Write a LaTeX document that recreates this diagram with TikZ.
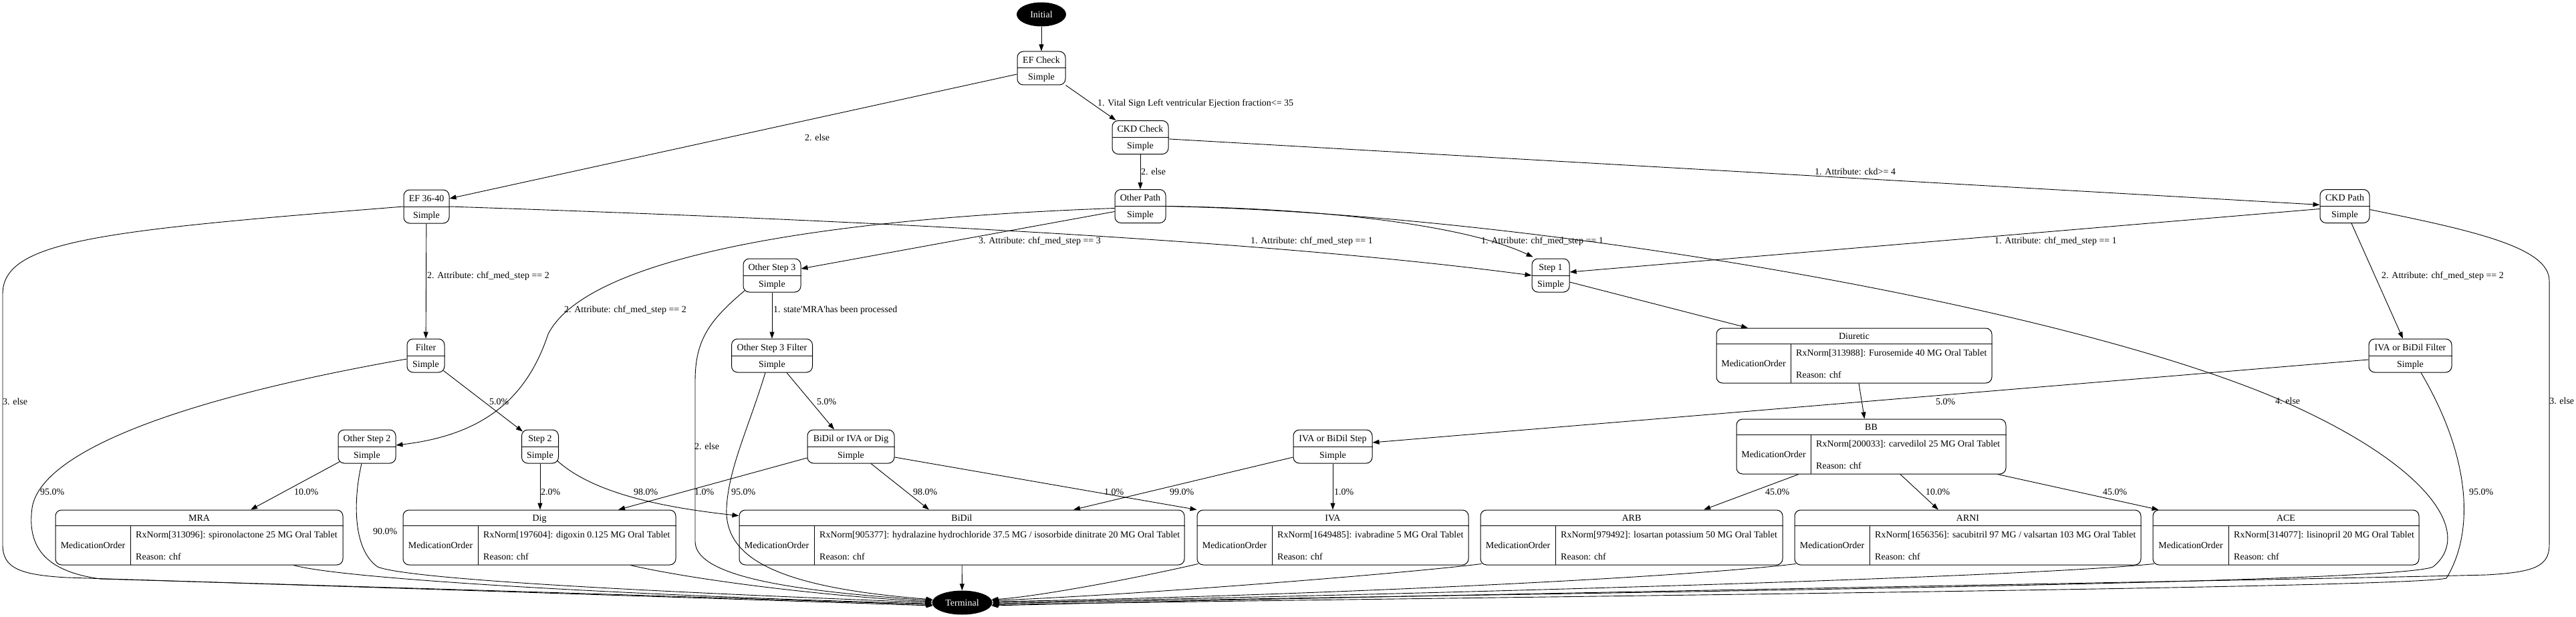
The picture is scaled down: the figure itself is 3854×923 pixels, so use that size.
\documentclass[tikz,border=0pt]{standalone}
\usepackage{fontspec}
\setmainfont{Liberation Serif}
\usetikzlibrary{shapes.geometric,arrows.meta}
\tikzset{
  txt/.style={inner sep=0pt, font=\fontsize{14pt}{17pt}\selectfont, text height=9.3pt, text depth=0pt},
  lbl/.style={txt, anchor=west},
  sbox/.style={draw, line width=1pt, rounded corners=9pt, minimum height=50pt, inner sep=0pt},
  mbox/.style={draw, line width=1pt, rounded corners=9pt, minimum height=82pt, inner sep=0pt},
  divline/.style={line width=1pt},
  term/.style={ellipse, fill=black, text=white, inner sep=0pt, minimum height=36pt, font=\fontsize{14pt}{17pt}\selectfont},
  arr/.style={line width=0.9pt, -{Triangle[length=10pt,width=7pt]}},
}
\newcommand\snode[5]{%
  \node[sbox, minimum width=#4pt] (#1) at (#2,#3) {};
  \draw[divline] (#1.west) -- (#1.east);
  \node[txt] (#1-t) at ([yshift=12.5pt]#1.center) {#5};
  \node[txt] (#1-s) at ([yshift=-12.5pt]#1.center) {Simple};
}
\newcommand\mnode[7]{%
  \node[mbox, minimum width={(#3-#2)*1pt}] (#1) at ({(#2+#3)/2},{#4+41}) {};
  \draw[divline] ([yshift=-24pt]#1.north west) -- ([yshift=-24pt]#1.north east);
  \draw[divline] (#5,{#4+24}) -- (#5,{#4+82});
  \node[txt] (#1-t) at ([yshift=-12pt]#1.north) {#6};
  \node[txt] (#1-m) at ({(#2+#5)/2},{#4+53}) {MedicationOrder};
  \node[txt, anchor=west] (#1-r) at ({#5+8},{#4+37}) {#7};
  \node[txt, anchor=west] (#1-c) at ({#5+8},{#4+70}) {Reason: chf};
}
\begin{document}
\begin{tikzpicture}[x=1pt,y=-1pt]
\useasboundingbox (0,0) rectangle (3854,923);
\fill[white] (0,0) rectangle (3854,923);

% ---------- nodes ----------
\node[term, minimum width=74pt] (init) at (1558,21.5) {Initial};
\snode{efcheck}{1558}{102}{72}{EF Check}
\snode{ckdcheck}{1706}{205.5}{84}{CKD Check}
\snode{otherpath}{1706}{308.5}{76}{Other Path}
\snode{ef36}{638}{309}{68}{EF 36-40}
\snode{ckdpath}{3508}{308.5}{74}{CKD Path}
\snode{step1}{2320}{412}{56}{Step 1}
\snode{ostep3}{1155}{412}{86}{Other Step 3}
\snode{filter}{637}{532}{56}{Filter}
\snode{osfilter}{1155}{532}{121}{Other Step 3 Filter}
\snode{ivafilter}{3606}{532}{124}{IVA or BiDil Filter}
\snode{ostep2}{549}{668}{86}{Other Step 2}
\snode{step2}{808}{668}{55}{Step 2}
\snode{bidig}{1273}{668}{130}{BiDil or IVA or Dig}
\snode{ivastep}{1994}{668}{118}{IVA or BiDil Step}

\mnode{diuretic}{2568}{2980}{491}{2679}{Diuretic}{RxNorm[313988]: Furosemide 40 MG Oral Tablet}
\mnode{bb}{2598}{3001}{627}{2709}{BB}{RxNorm[200033]: carvedilol 25 MG Oral Tablet}
\mnode{mra}{83}{513}{763}{195}{MRA}{RxNorm[313096]: spironolactone 25 MG Oral Tablet}
\mnode{dig}{603}{1011}{763}{715}{Dig}{RxNorm[197604]: digoxin 0.125 MG Oral Tablet}
\mnode{bidil}{1106}{1772}{763}{1218}{BiDil}{RxNorm[905377]: hydralazine hydrochloride 37.5 MG / isosorbide dinitrate 20 MG Oral Tablet}
\mnode{iva}{1791}{2197}{763}{1903}{IVA}{RxNorm[1649485]: ivabradine 5 MG Oral Tablet}
\mnode{arb}{2215}{2667}{763}{2327}{ARB}{RxNorm[979492]: losartan potassium 50 MG Oral Tablet}
\mnode{arni}{2685}{3203}{763}{2797}{ARNI}{RxNorm[1656356]: sacubitril 97 MG / valsartan 103 MG Oral Tablet}
\mnode{ace}{3221}{3619}{763}{3334}{ACE}{RxNorm[314077]: lisinopril 20 MG Oral Tablet}

\node[term, minimum width=90pt] (terminal) at (1439.5,901.5) {Terminal};

% ---------- connectors ----------
\draw[arr] (init) -- (efcheck);
\draw[arr] (efcheck) -- (ckdcheck);
\draw[arr] ([yshift=-9pt]efcheck.west) -- ([yshift=12pt]ef36.east);
\draw[arr] (ckdcheck) -- (otherpath);
\draw[arr] (ckdcheck) -- (ckdpath);
\draw[arr] (ef36.east) .. controls (1300,330) and (1900,360) .. (step1.west);
\draw[arr] (ef36) -- (filter);
\draw[arr] (ef36.west) .. controls (150,345) and (4,360) .. (4,440) -- (4,815) .. controls (4,850) and (30,860) .. (100,864) .. controls (600,880) and (1000,893) .. (terminal.186);

\draw[arr] ([yshift=-8pt]otherpath.west) -- ([yshift=10pt]ostep3.east);
\draw[arr] (otherpath.east) .. controls (2000,312) and (2200,340) .. ([xshift=2pt,yshift=2pt]step1.north west);
\draw[arr] ([yshift=-3pt]otherpath.west) .. controls (1150,330) and (870,400) .. (820,500) .. controls (790,590) and (730,650) .. ([yshift=2pt]ostep2.east);
\draw[arr] (otherpath.east) .. controls (2300,320) and (3100,460) .. (3420,602) .. controls (3640,700) and (3700,800) .. (3640,848) .. controls (3580,875) and (2200,888) .. (terminal.-2);

\draw[arr] ([yshift=-4pt]ckdpath.west) -- ([yshift=5pt]step1.east);
\draw[arr] ([xshift=10pt]ckdpath.south) -- ([xshift=-11pt]ivafilter.north);
\draw[arr] ([yshift=-5pt]ckdpath.east) .. controls (3700,345) and (3814,370) .. (3814,420) -- (3814,815) .. controls (3814,848) and (3790,856) .. (3720,860) .. controls (3400,868) and (2100,890) .. (terminal.-6);

\draw[arr] (ostep3) -- (osfilter);
\draw[arr] ([xshift=3pt,yshift=3pt]ostep3.south west) .. controls (1060,480) and (1040,510) .. (1040,570) -- (1040,810) .. controls (1040,865) and (1200,885) .. (terminal.176);
\draw[arr] ([xshift=22pt]osfilter.south) -- ([xshift=-25pt]bidig.north);
\draw[arr] ([xshift=-10pt]osfilter.south) .. controls (1120,640) and (1090,700) .. (1087,760) .. controls (1084,830) and (1150,878) .. (terminal.174);

\draw[arr] ([xshift=-2pt,yshift=3pt]filter.south east) -- ([xshift=2pt,yshift=-3pt]step2.north west);
\draw[arr] ([yshift=-5pt]filter.west) .. controls (250,600) and (60,680) .. (48,760) .. controls (40,820) and (70,855) .. (150,866) .. controls (700,882) and (1100,895) .. (terminal.184);

\draw[arr] ([xshift=3pt,yshift=3pt]ostep2.south west) -- ([xshift=77pt]mra.north);
\draw[arr] ([xshift=-8pt]ostep2.south) .. controls (530,740) and (525,820) .. (565,848) .. controls (620,870) and (1100,890) .. (terminal.180);

\draw[arr] (step2.south) -- (step2.south |- dig.north);
\draw[arr] ([xshift=-2pt,yshift=4pt]step2.south east) .. controls (890,740) and (1000,760) .. ([yshift=-9pt]bidil.north west);

\draw[arr] ([yshift=-17pt]bidig.west) -- ([xshift=118pt]dig.north);
\draw[arr] ([xshift=30pt]bidig.south) -- ([xshift=-49pt]bidil.north);
\draw[arr] ([yshift=-16pt]bidig.east) -- (iva.north west);
\draw[arr] ([yshift=-16pt]ivastep.west) -- ([xshift=167pt]bidil.north);
\draw[arr] (ivastep) -- (iva);
\draw[arr] ([yshift=-6pt]ivafilter.west) -- ([yshift=6pt]ivastep.east);
\draw[arr] ([xshift=16pt]ivafilter.south) .. controls (3700,690) and (3700,800) .. (3660,865) .. controls (3600,880) and (2200,893) .. (terminal.-4);

\draw[arr] ([yshift=-10pt]step1.east) -- ([xshift=-159pt]diuretic.north);
\draw[arr] ([xshift=7pt]diuretic.south) -- ([xshift=-10pt]bb.north);
\draw[arr] ([xshift=-108.5pt]bb.south) -- ([xshift=108pt]arb.north);
\draw[arr] ([xshift=43.5pt]bb.south) -- ([xshift=-44pt]arni.north);
\draw[arr] ([xshift=-13pt]bb.south east) -- ([xshift=9pt]ace.north west);

\draw[arr] ([xshift=141pt]mra.south) .. controls (520,868) and (1000,893) .. (terminal.182);
\draw[arr] ([xshift=136pt]dig.south) .. controls (1050,870) and (1250,893) .. (terminal.178);
\draw[arr] (bidil) -- (terminal);
\draw[arr] ([xshift=2pt,yshift=2pt]iva.south west) .. controls (1700,865) and (1550,893) .. (terminal.6);
\draw[arr] ([xshift=2pt,yshift=2pt]arb.south west) .. controls (2100,858) and (1700,890) .. (terminal.4);
\draw[arr] ([xshift=2pt,yshift=2pt]arni.south west) .. controls (2500,866) and (1900,893) .. (terminal.2);
\draw[arr] ([xshift=2pt,yshift=2pt]ace.south west) .. controls (3000,866) and (2000,892) .. (terminal.0);

% ---------- connector labels ----------
\node[lbl] (lb1) at (1642,154) {1. Vital Sign Left ventricular Ejection fraction<= 35};
\node[lbl] (lb2) at (1204,206) {2. else};
\node[lbl] (lb3) at (1707,257) {2. else};
\node[lbl] (lb4) at (2715,257) {1. Attribute: ckd>= 4};
\node[lbl] (lb5) at (1871,360) {1. Attribute: chf\_med\_step == 1};
\node[lbl] (lb6) at (1464,360) {3. Attribute: chf\_med\_step == 3};
\node[lbl] (lb7) at (2216,360) {1. Attribute: chf\_med\_step == 1};
\node[lbl] (lb8) at (2984,360) {1. Attribute: chf\_med\_step == 1};
\node[lbl] (lb9) at (639,412) {2. Attribute: chf\_med\_step == 2};
\node[lbl] (lb10) at (3563,412) {2. Attribute: chf\_med\_step == 2};
\node[lbl] (lb11) at (844,463) {2. Attribute: chf\_med\_step == 2};
\node[lbl] (lb12) at (1157,463) {1. state\textquotesingle MRA\textquotesingle has been processed};
\node[lbl] (lb13) at (4,601) {3. else};
\node[lbl] (lb14) at (732,601) {5.0\%};
\node[lbl] (lb15) at (1222,601) {5.0\%};
\node[lbl] (lb16) at (2896,601) {5.0\%};
\node[lbl] (lb17) at (3404,600) {4. else};
\node[lbl] (lb18) at (3814,600) {3. else};
\node[lbl] (lb19) at (1039,668) {2. else};
\node[lbl] (lb20) at (60,736) {95.0\%};
\node[lbl] (lb21) at (440,736) {10.0\%};
\node[lbl] (lb22) at (809,736) {2.0\%};
\node[lbl] (lb23) at (948,736) {98.0\%};
\node[lbl] (lb24) at (1039,736) {1.0\%};
\node[lbl] (lb25) at (1094,736) {95.0\%};
\node[lbl] (lb26) at (1366,736) {98.0\%};
\node[lbl] (lb27) at (1652,736) {1.0\%};
\node[lbl] (lb28) at (1750,736) {99.0\%};
\node[lbl] (lb29) at (1996,736) {1.0\%};
\node[lbl] (lb30) at (2641,736) {45.0\%};
\node[lbl] (lb31) at (2881,736) {10.0\%};
\node[lbl] (lb32) at (3146,736) {45.0\%};
\node[lbl] (lb33) at (3694,736) {95.0\%};
\node[lbl] (lb34) at (558,795) {90.0\%};
\end{tikzpicture}
\end{document}
